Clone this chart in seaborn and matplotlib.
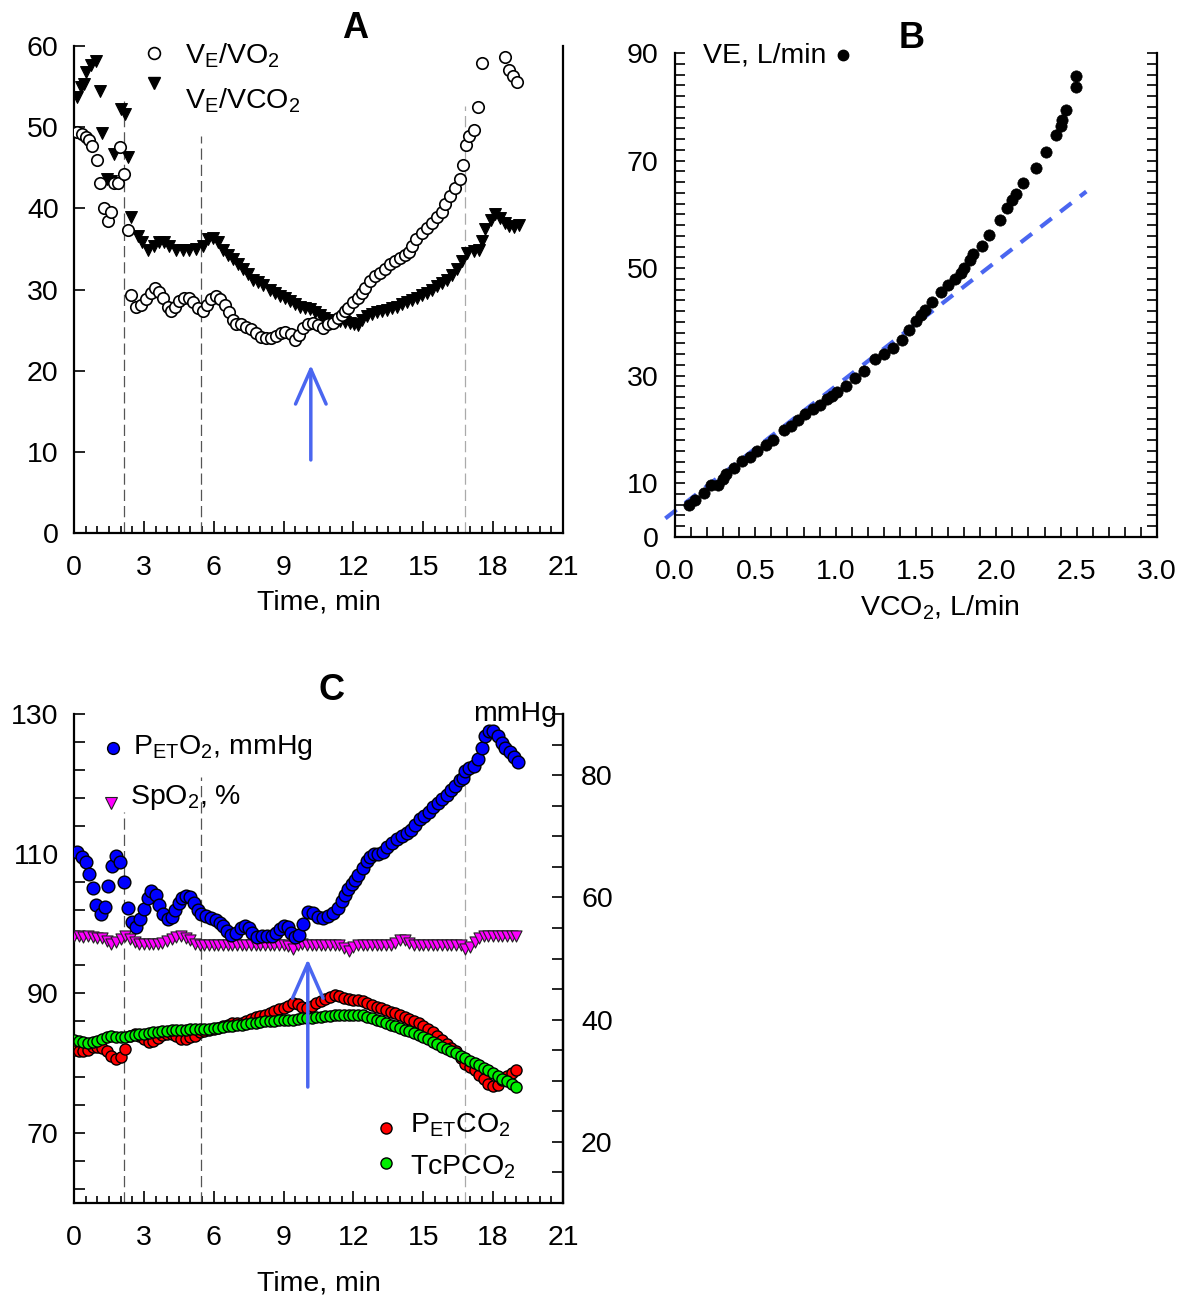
import matplotlib
matplotlib.use("Agg")
import matplotlib.pyplot as plt
from matplotlib.ticker import FixedLocator, MultipleLocator, FixedFormatter
import seaborn as sns

# ---------------- Panel A: ventilatory equivalents vs time ----------------
time_ve_vo2 = [0.14, 0.36, 0.50, 0.64, 0.79, 0.98, 1.10, 1.29, 1.48, 1.58, 1.72, 1.87, 1.97,
               2.16, 2.30, 2.44, 2.66, 2.87, 3.09, 3.30, 3.49, 3.66, 3.84, 4.02, 4.17, 4.35,
               4.53, 4.74, 4.96, 5.13, 5.31, 5.53, 5.70, 5.89, 6.11, 6.28, 6.47, 6.65, 6.82,
               6.97, 7.18, 7.40, 7.61, 7.83, 8.05, 8.26, 8.48, 8.66, 8.87, 9.05, 9.30, 9.48,
               9.65, 9.84, 10.06, 10.27, 10.49, 10.70, 10.92, 11.13, 11.35, 11.49, 11.64,
               11.78, 12.00, 12.20, 12.35, 12.50, 12.70, 12.93, 13.15, 13.36, 13.58, 13.80,
               14.00, 14.22, 14.37, 14.50, 14.70, 14.94, 15.16, 15.37, 15.59, 15.80, 15.95,
               16.16, 16.38, 16.57, 16.70, 16.84, 16.98, 17.17, 17.35, 17.50, 18.53, 18.68,
               18.85, 19.04]
ve_vo2 = [49.4, 49.1, 48.8, 48.4, 47.7, 46.0, 43.1, 40.1, 38.4, 39.5, 43.1, 43.1, 47.6,
          44.2, 37.3, 29.3, 27.9, 28.1, 28.8, 29.6, 30.2, 29.7, 28.9, 27.9, 27.3, 27.9,
          28.6, 29.0, 28.9, 28.4, 27.7, 27.3, 28.1, 28.8, 29.2, 28.8, 28.1, 27.2, 26.3,
          25.8, 25.7, 25.4, 25.1, 24.6, 24.2, 24.0, 24.0, 24.3, 24.7, 24.8, 24.5, 23.8,
          24.4, 25.2, 25.7, 25.9, 25.6, 25.3, 25.7, 25.9, 26.5, 26.9, 27.3,
          27.7, 28.4, 29.0, 29.6, 30.2, 31.0, 31.7, 32.0, 32.5, 33.1, 33.5,
          33.9, 34.3, 34.6, 35.4, 36.2, 37.0, 37.6, 38.2, 38.9, 39.5, 40.5,
          41.5, 42.5, 43.6, 45.4, 47.8, 48.9, 49.7, 52.5, 57.9, 58.6, 57.1,
          56.3, 55.6]

time_ve_vco2 = [0.14, 0.29, 0.43, 0.53, 0.72, 0.93, 1.10, 1.22, 1.40, 1.58, 1.72, 2.01, 2.18,
                2.30, 2.44, 2.73, 2.94, 3.16, 3.45, 3.66, 3.88, 4.09, 4.38, 4.67, 4.96, 5.24,
                5.53, 5.75, 5.96, 6.18, 6.39, 6.61, 6.82, 7.04, 7.25, 7.47, 7.69, 7.90, 8.12,
                8.40, 8.62, 8.84, 9.05, 9.27, 9.50, 9.70, 9.92, 10.13, 10.35, 10.56, 10.74,
                10.92, 11.15, 11.42, 11.64, 11.85, 12.03, 12.20, 12.38, 12.57, 12.78, 13.00,
                13.21, 13.43, 13.65, 13.87, 14.08, 14.30, 14.52, 14.73, 14.95, 15.16, 15.38,
                15.59, 15.80, 16.00, 16.23, 16.45, 16.67, 16.88, 17.17, 17.38, 17.53, 17.67,
                17.90, 18.10, 18.30, 18.50, 18.70, 18.90, 19.10]
ve_vco2 = [53.7, 54.9, 55.3, 56.8, 57.6, 58.2, 54.5, 49.3, 43.6, 43.4, 46.7, 52.2, 51.6,
           46.3, 38.9, 36.6, 35.8, 34.9, 35.3, 35.8, 35.8, 35.3, 34.9, 34.9, 34.9, 35.0,
           35.3, 36.2, 36.4, 35.8, 34.9, 34.3, 33.7, 33.1, 32.5, 31.9, 31.2, 30.9, 30.5,
           30.0, 29.6, 29.2, 28.9, 28.6, 28.2, 27.9, 27.7, 27.6, 27.2, 26.8, 26.5,
           26.3, 26.2, 26.1, 26.0, 25.9, 25.8, 25.6, 26.2, 26.7, 27.0, 27.2,
           27.3, 27.5, 27.7, 27.9, 28.2, 28.4, 28.7, 29.0, 29.3, 29.6, 30.0,
           30.4, 30.8, 31.2, 31.8, 32.5, 33.5, 34.5, 34.7, 34.9, 36.0, 37.4,
           38.6, 39.3, 38.8, 38.2, 37.8, 37.7, 38.0]

# ---------------- Panel B: VE vs VCO2 ----------------
vco2 = [0.089, 0.122, 0.178, 0.222, 0.267, 0.30, 0.32, 0.367, 0.42, 0.467, 0.51, 0.567,
        0.61, 0.678, 0.722, 0.767, 0.81, 0.856, 0.90, 0.944, 0.978, 1.01, 1.067, 1.122,
        1.178, 1.244, 1.30, 1.356, 1.41, 1.456, 1.50, 1.533, 1.556, 1.60, 1.656, 1.70,
        1.744, 1.778, 1.80, 1.833, 1.856, 1.91, 1.956, 2.022, 2.067, 2.10, 2.122, 2.167,
        2.244, 2.311, 2.371, 2.40, 2.41, 2.433, 2.496, 2.496]
ve = [6.0, 6.8, 8.2, 9.6, 9.6, 10.7, 11.7, 12.8, 14.2, 14.9, 16.0, 17.1,
      18.1, 19.9, 20.6, 21.7, 22.8, 23.8, 24.5, 25.6, 26.3, 27.0, 28.1, 29.5,
      30.9, 33.1, 34.1, 35.2, 36.6, 38.4, 40.2, 41.3, 42.3, 43.7, 45.5, 46.9,
      48.0, 49.1, 50.1, 51.6, 52.6, 54.1, 56.2, 58.9, 61.2, 62.6, 63.8, 65.8,
      68.6, 71.5, 74.7, 76.5, 77.5, 79.4, 83.6, 85.8]
fit_intercept = 4.85
fit_slope = 23.2
fit_range = [-0.06, 2.56]

# ---------------- Panel C: gas tensions and saturation ----------------
time_peto2 = [0.14, 0.33, 0.50, 0.65, 0.82, 0.96, 1.15, 1.34, 1.48, 1.62, 1.80, 1.98, 2.16,
              2.33, 2.49, 2.66, 2.83, 3.02, 3.16, 3.31, 3.52, 3.66, 3.84, 4.02, 4.21, 4.35,
              4.50, 4.64, 4.81, 5.00, 5.17, 5.31, 5.46, 5.68, 5.89, 6.08, 6.25, 6.42, 6.58,
              6.75, 6.97, 7.16, 7.33, 7.50, 7.66, 7.86, 8.09, 8.29, 8.50, 8.69, 8.84, 9.00,
              9.20, 9.34, 9.48, 9.67, 9.84, 10.06, 10.27, 10.49, 10.70, 10.92, 11.13, 11.35,
              11.49, 11.64, 11.78, 11.93, 12.07, 12.20, 12.43, 12.57, 12.72, 12.89, 13.07,
              13.29, 13.46, 13.65, 13.87, 14.08, 14.30, 14.47, 14.66, 14.84, 15.01, 15.23,
              15.42, 15.62, 15.80, 16.02, 16.19, 16.38, 16.57, 16.71, 16.81, 16.98, 17.17,
              17.36, 17.50, 17.67, 17.84, 18.00, 18.20, 18.36, 18.53, 18.72, 18.90, 19.07]
peto2 = [110.2, 109.5, 108.8, 107.1, 105.1, 102.6, 101.4, 102.4, 105.4, 108.3, 109.7, 108.8, 105.9,
         102.3, 100.2, 99.5, 100.7, 102.1, 103.7, 104.6, 104.1, 102.7, 101.3, 100.7, 101.0, 102.0,
         103.0, 103.7, 104.0, 103.8, 102.9, 102.0, 101.4, 101.1, 100.8, 100.5, 100.1, 99.7, 99.0,
         98.4, 98.6, 99.4, 99.7, 99.4, 98.6, 98.1, 98.2, 98.2, 98.2, 98.7, 99.2, 99.7,
         99.5, 98.6, 98.1, 98.3, 99.9, 101.6, 101.5, 101.0, 100.8, 101.1, 101.5, 102.2,
         103.2, 104.1, 104.9, 105.6, 106.3, 107.0, 108.0, 108.9, 109.6, 109.9, 109.9,
         110.3, 111.0, 111.6, 112.1, 112.5, 112.9, 113.4, 114.1, 114.9, 115.4, 116.0,
         116.7, 117.2, 117.8, 118.4, 119.1, 119.7, 120.6, 120.8, 121.9, 122.2, 122.6,
         123.5, 125.2, 126.8, 127.5, 127.6, 126.9, 125.9, 125.2, 124.6, 123.9, 123.2]

time_c = [0.0, 0.2, 0.4, 0.6, 0.8, 1.0, 1.2, 1.4, 1.6, 1.8, 2.0, 2.2, 2.4, 2.6, 2.8, 3.0,
          3.2, 3.4, 3.6, 3.8, 4.0, 4.2, 4.4, 4.6, 4.8, 5.0, 5.2, 5.4, 5.6, 5.8, 6.0, 6.2,
          6.4, 6.6, 6.8, 7.0, 7.2, 7.4, 7.6, 7.8, 8.0, 8.2, 8.4, 8.6, 8.8, 9.0, 9.2, 9.4,
          9.6, 9.8, 10.0, 10.2, 10.4, 10.6, 10.8, 11.0, 11.2, 11.4, 11.6, 11.8, 12.0, 12.2,
          12.4, 12.6, 12.8, 13.0, 13.2, 13.4, 13.6, 13.8, 14.0, 14.2, 14.4, 14.6, 14.8, 15.0,
          15.2, 15.4, 15.6, 15.8, 16.0, 16.2, 16.4, 16.6, 16.8, 17.0, 17.2, 17.4, 17.6, 17.8,
          18.0, 18.2, 18.4, 18.6, 18.8, 19.0]
spo2 = [98.2, 98.2, 98.1, 98.2, 98.1, 98.0, 97.9, 97.5, 97.1, 97.3, 97.8, 98.2, 97.8, 97.3, 97.1, 97.1,
        97.1, 97.1, 97.1, 97.2, 97.5, 97.8, 98.1, 98.2, 98.0, 97.6, 97.1, 97.0, 97.0, 97.0, 97.0, 97.0,
        97.0, 97.0, 97.0, 97.0, 97.0, 97.0, 97.0, 97.0, 97.0, 97.0, 97.0, 97.0, 97.0, 97.0, 96.8, 96.4,
        96.9, 97.1, 97.0, 97.0, 97.0, 97.0, 97.0, 97.0, 97.0, 97.0, 96.5, 96.1, 96.7, 97.0,
        97.0, 97.0, 97.0, 97.0, 97.0, 97.0, 97.0, 97.2, 97.6, 97.6, 97.2, 97.0, 97.0, 97.0,
        97.0, 97.0, 97.0, 97.0, 97.0, 97.0, 97.0, 97.0, 96.3, 96.7, 97.4, 97.9, 98.2, 98.2,
        98.2, 98.2, 98.2, 98.2, 98.2, 98.2]
petco2 = [35.0, 34.9, 34.9, 35.1, 35.5, 35.6, 35.3, 34.9, 34.0, 33.5, 33.9, 35.2, 37.3, 37.7, 37.4, 36.8,
          36.4, 36.5, 37.0, 37.5, 37.6, 37.6, 37.3, 36.9, 36.9, 37.1, 37.4, 37.9, 38.2, 38.3, 38.4, 38.6,
          38.9, 39.2, 39.4, 39.4, 39.5, 39.8, 40.1, 40.4, 40.6, 40.8, 41.1, 41.4, 41.7, 41.9, 42.3, 42.8,
          42.5, 42.1, 41.9, 42.3, 42.8, 43.1, 43.3, 43.7, 44.1, 43.9, 43.6, 43.4, 43.2, 43.2,
          43.1, 42.8, 42.4, 42.1, 41.9, 41.6, 41.3, 41.1, 40.8, 40.4, 40.1, 39.8, 39.4, 38.9,
          38.4, 37.9, 37.4, 36.7, 36.0, 35.4, 34.8, 33.8, 32.8, 32.3, 31.8, 31.0, 30.3, 29.5,
          29.1, 29.3, 30.1, 30.8, 31.3, 31.8]
tcpco2 = [36.7, 36.5, 36.3, 36.2, 36.3, 36.5, 36.8, 37.1, 37.3, 37.2, 37.1, 37.2, 37.3, 37.5, 37.6, 37.7,
          37.8, 37.9, 38.0, 38.1, 38.2, 38.3, 38.3, 38.3, 38.3, 38.4, 38.4, 38.4, 38.5, 38.5, 38.6, 38.7,
          38.8, 38.9, 39.0, 39.1, 39.2, 39.3, 39.4, 39.5, 39.6, 39.7, 39.8, 39.8, 39.9, 39.9, 40.0, 40.0,
          40.1, 40.2, 40.3, 40.3, 40.4, 40.5, 40.6, 40.6, 40.7, 40.8, 40.8, 40.8, 40.8, 40.8,
          40.7, 40.5, 40.2, 39.9, 39.7, 39.4, 39.1, 38.9, 38.6, 38.3, 38.1, 37.8, 37.5, 37.2,
          36.8, 36.4, 36.0, 35.6, 35.2, 34.8, 34.5, 34.1, 33.7, 33.3, 32.9, 32.5, 32.1, 31.7,
          31.2, 30.8, 30.3, 29.9, 29.4, 29.0]

# exercise phase boundaries (min) and upper ends of their markers
event_times = [2.16, 5.46, 16.8]
event_tops_a = [53.2, 48.9, 52.6]
event_tops_c = [115.9, 121.0, 119.9]
event_colors = ["#555555", "#555555", "#aaaaaa"]

# threshold arrows (time, start, end)
arrow_a = (10.17, 9.0, 20.7)
arrow_c = (10.04, 76.6, 94.9)

# ---------------- styling ----------------
sns.set_style("ticks")
plt.rcParams["font.family"] = ["Liberation Sans", "DejaVu Sans"]
plt.rcParams["mathtext.fontset"] = "custom"
plt.rcParams["mathtext.rm"] = "Liberation Sans"
plt.rcParams["mathtext.it"] = "Liberation Sans"
plt.rcParams["axes.edgecolor"] = "black"
plt.rcParams["axes.labelcolor"] = "black"
plt.rcParams["text.color"] = "black"
plt.rcParams["xtick.color"] = "black"
plt.rcParams["ytick.color"] = "black"

W, H = 1183, 1302
fig = plt.figure(figsize=(W / 100, H / 100), dpi=100)

def fx(px):
    return px / W

def fy(py):
    return 1 - py / H

TICK_FS = 20.5
LABEL_FS = 20.5
ARROW_COLOR = "#4a66f0"
ARROW_STYLE = "->,head_length=1.25,head_width=0.55"

def style_spines(ax):
    ax.spines["top"].set_visible(False)
    for s in ("left", "right", "bottom"):
        ax.spines[s].set_visible(True)
        ax.spines[s].set_linewidth(1.6)
        ax.spines[s].set_color("black")

def time_axis(ax, labelpad):
    ax.set_xlim(0, 21)
    ax.xaxis.set_major_locator(FixedLocator([0, 3, 6, 9, 12, 15, 18, 21]))
    ax.xaxis.set_minor_locator(MultipleLocator(0.5))
    ax.tick_params(axis="x", which="both", direction="in", width=1.2, labelsize=TICK_FS,
                   top=False)
    ax.tick_params(axis="x", which="major", length=9, pad=16)
    ax.tick_params(axis="x", which="minor", length=5)
    ax.set_xlabel("Time, min", fontsize=LABEL_FS, labelpad=labelpad)

def fig_text(px, py, s, **kw):
    fig.text(fx(px), fy(py), s, transform=fig.transFigure, **kw)

def fig_marker(px, py, **kw):
    fig.add_artist(plt.Line2D([fx(px)], [fy(py)], transform=fig.transFigure, **kw))

# ---------------- Panel A ----------------
axA = fig.add_axes([fx(74), fy(533), fx(563 - 74), (533 - 46) / H])
style_spines(axA)
axA.vlines(event_times, 0, event_tops_a, colors=event_colors, linewidth=0.9,
           linestyles=(0, (9, 4)), zorder=1)
sns.scatterplot(x=time_ve_vco2, y=ve_vco2, ax=axA, marker="v", s=72, color="black",
                edgecolor="black", linewidth=0.8, zorder=3)
sns.scatterplot(x=time_ve_vo2, y=ve_vo2, ax=axA, marker="o", s=68, color="white",
                edgecolor="black", linewidth=1.2, zorder=4)
axA.annotate("", xy=(arrow_a[0], arrow_a[2]), xytext=(arrow_a[0], arrow_a[1]),
             arrowprops=dict(arrowstyle=ARROW_STYLE, color=ARROW_COLOR, lw=2.5,
                             mutation_scale=20, shrinkA=0, shrinkB=0), zorder=5)
axA.set_ylim(0, 60)
axA.yaxis.set_major_locator(MultipleLocator(10))
axA.tick_params(axis="y", which="major", direction="in", length=8, width=1.2, pad=11,
                labelsize=TICK_FS, right=False)
axA.tick_params(axis="y", which="minor", left=False, right=False)
time_axis(axA, 6)
axA.set_ylabel("")

fig_marker(154, 53, marker="o", markersize=8.5, markerfacecolor="white",
           markeredgecolor="black", markeredgewidth=1.2, linestyle="none")
fig_marker(154, 83, marker="v", markersize=9, markerfacecolor="black",
           markeredgecolor="black", linestyle="none")
fig_text(185, 56, r"$\mathregular{V_E/VO_2}$", fontsize=20.5, va="center", ha="left")
fig_text(185, 101, r"$\mathregular{V_E/VCO_2}$", fontsize=20.5, va="center", ha="left")
fig_text(355, 28, "A", fontsize=26, fontweight="bold", ha="center", va="center")

# ---------------- Panel B ----------------
axB = fig.add_axes([fx(675), fy(537), fx(1157 - 675), (537 - 53) / H])
style_spines(axB)
fit_y = [fit_intercept + fit_slope * v for v in fit_range]
axB.plot(fit_range, fit_y, color=ARROW_COLOR, lw=3, linestyle=(0, (3.4, 2.6)),
         clip_on=False, zorder=2)
sns.scatterplot(x=vco2, y=ve, ax=axB, marker="o", s=66, color="black",
                edgecolor="black", linewidth=0.5, zorder=3)
axB.set_xlim(0, 3.0)
axB.set_ylim(0, 90)
axB.xaxis.set_major_locator(MultipleLocator(0.5))
axB.xaxis.set_major_formatter(matplotlib.ticker.FormatStrFormatter("%.1f"))
axB.xaxis.set_minor_locator(MultipleLocator(0.1))
yb_ticks = list(range(0, 91, 2))
axB.yaxis.set_major_locator(FixedLocator(yb_ticks))
axB.yaxis.set_major_formatter(FixedFormatter(
    [str(v) if v in (0, 10, 30, 50, 70, 90) else "" for v in yb_ticks]))
axB.tick_params(axis="both", which="both", direction="in", width=1.2, labelsize=TICK_FS)
axB.tick_params(axis="x", which="both", length=7, pad=16, top=False)
axB.tick_params(axis="y", which="major", length=7, pad=12, left=True, right=True,
                labelright=False)
axB.set_xlabel(r"VCO$_\mathregular{2}$, L/min", fontsize=LABEL_FS, labelpad=6, x=0.55)
axB.set_ylabel("")

fig_text(703, 56, "VE, L/min", fontsize=20.5, va="center", ha="left")
fig_marker(843, 55, marker="o", markersize=7.5, markerfacecolor="black",
           markeredgecolor="black", linestyle="none")
fig_text(912, 38, "B", fontsize=26, fontweight="bold", ha="center", va="center")

# ---------------- Panel C ----------------
axC = fig.add_axes([fx(74), fy(1203), fx(563 - 74), (1203 - 714) / H])
style_spines(axC)
axC.vlines(event_times, 60, event_tops_c, colors=event_colors, linewidth=0.9,
           linestyles=(0, (9, 4)), zorder=1)
axC.set_ylim(60, 130)
sns.scatterplot(x=time_c, y=spo2, ax=axC, marker="v", s=64, color="#ff00ff",
                edgecolor="#222222", linewidth=0.8, zorder=3)
sns.scatterplot(x=time_peto2, y=peto2, ax=axC, marker="o", s=84, color="#0000ff",
                edgecolor="black", linewidth=1.0, zorder=4)
yc_ticks = list(range(62, 131, 4))
axC.yaxis.set_major_locator(FixedLocator(yc_ticks))
axC.yaxis.set_major_formatter(FixedFormatter(
    [str(v) if v in (70, 90, 110, 130) else "" for v in yc_ticks]))
axC.tick_params(axis="y", which="major", direction="in", length=8, width=1.2, pad=11,
                labelsize=TICK_FS, right=False)
time_axis(axC, 14)
axC.set_ylabel("")

axC2 = axC.twinx()
axC2.spines["top"].set_visible(False)
axC2.spines["right"].set_linewidth(1.6)
axC2.spines["left"].set_visible(False)
axC2.spines["bottom"].set_visible(False)
axC2.set_ylim(10, 90)
sns.scatterplot(x=time_c, y=petco2, ax=axC2, marker="o", s=64, color="#ff0000",
                edgecolor="black", linewidth=1.0, zorder=3)
sns.scatterplot(x=time_c, y=tcpco2, ax=axC2, marker="o", s=64, color="#00ee00",
                edgecolor="black", linewidth=1.0, zorder=4)
yr_ticks = list(range(10, 91, 5))
axC2.yaxis.set_major_locator(FixedLocator(yr_ticks))
axC2.yaxis.set_major_formatter(FixedFormatter(
    [str(v) if v in (20, 40, 60, 80) else "" for v in yr_ticks]))
axC2.tick_params(axis="y", which="major", direction="in", length=8, width=1.2, pad=13,
                 labelsize=TICK_FS)
axC2.set_ylabel("")
axC2.set_xlim(0, 21)
axC2.annotate("", xy=(arrow_c[0], arrow_c[2]), xytext=(arrow_c[0], arrow_c[1]),
              xycoords=axC.transData, textcoords=axC.transData,
              arrowprops=dict(arrowstyle=ARROW_STYLE, color=ARROW_COLOR, lw=2.5,
                              mutation_scale=20, shrinkA=0, shrinkB=0), zorder=6)

fig_marker(113, 748, marker="o", markersize=8.5, markerfacecolor="#0000ff",
           markeredgecolor="black", markeredgewidth=1.0, linestyle="none")
fig_text(133, 748, r"$\mathregular{P_{ET}O_2}$, mmHg", fontsize=20.5, va="center", ha="left")
fig_marker(111, 803, marker="v", markersize=8.5, markerfacecolor="#ff00ff",
           markeredgecolor="#222222", markeredgewidth=0.8, linestyle="none")
fig_text(130, 798, r"SpO$_\mathregular{2}$, %", fontsize=20.5, va="center", ha="left")
fig_marker(386, 1128, marker="o", markersize=8, markerfacecolor="#ff0000",
           markeredgecolor="black", markeredgewidth=1.0, linestyle="none")
fig_text(410, 1125, r"$\mathregular{P_{ET}CO_2}$", fontsize=20.5, va="center", ha="left")
fig_marker(386, 1163, marker="o", markersize=8, markerfacecolor="#00ee00",
           markeredgecolor="black", markeredgewidth=1.0, linestyle="none")
fig_text(410, 1167, r"TcPCO$_\mathregular{2}$", fontsize=20.5, va="center", ha="left")
fig_text(557, 714, "mmHg", fontsize=20.5, va="center", ha="right")
fig_text(332, 690, "C", fontsize=26, fontweight="bold", ha="center", va="center")

fig.savefig("out.png", dpi=100)
